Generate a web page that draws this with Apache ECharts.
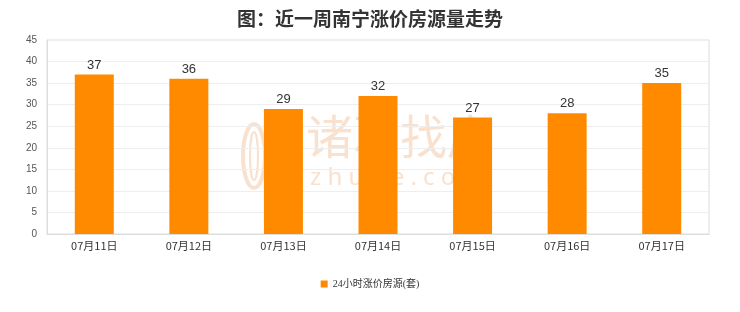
<!DOCTYPE html>
<html><head><meta charset="utf-8">
<script src="https://cdn.jsdelivr.net/npm/echarts@6/dist/echarts.min.js"></script>
<style>html,body{margin:0;padding:0;background:#fff}#c{width:740px;height:312px}</style>
</head><body><div id="c"></div>
<script>
var categories = ['07月11日','07月12日','07月13日','07月14日','07月15日','07月16日','07月17日'];
var values = [37, 36, 29, 32, 27, 28, 35];
var seriesName = '24小时涨价房源(套)';
var titleText = '图：近一周南宁涨价房源量走势';

var chart = echarts.init(document.getElementById('c'));
var wm = 'rgba(244,196,155,0.5)';
chart.setOption({
  backgroundColor: '#fff',
  animation: false,
  title: { text: titleText, left: 'center', top: 4,
    textStyle: { fontSize: 19, fontWeight: 'bold', color: '#333', fontFamily: 'Noto Sans CJK SC' } },
  graphic: [{
    type: 'text', left: 306, top: 113, z: 0,
    style: { text: '诸葛找房', fontSize: 47, fill: wm, fontFamily: 'Noto Sans CJK SC', fontWeight: 'normal' }
  },{
    type: 'text', left: 310, top: 166, z: 0,
    style: { text: 'z h u g e . c o m', fontSize: 24, fill: wm, fontFamily: 'Noto Sans' }
  },{
    type: 'ellipse', z: 0, shape: { cx: 254, cy: 156, rx: 11, ry: 32 },
    style: { fill: 'none', stroke: wm, lineWidth: 4 }
  },{
    type: 'ellipse', z: 0, shape: { cx: 254, cy: 156, rx: 4, ry: 24 },
    style: { fill: 'none', stroke: wm, lineWidth: 2 }
  }],
  grid: { left: 47, right: 31, top: 40, bottom: 78, show: true, borderColor: '#ddd', borderWidth: 1 },
  legend: { bottom: 18, left: 'center', itemWidth: 7, itemHeight: 7, icon: 'rect',
    textStyle: { fontSize: 10, color: '#333', fontFamily: 'Liberation Serif, Noto Sans CJK SC' } },
  xAxis: { type: 'category', data: categories,
    axisLine: { lineStyle: { color: '#ddd' } }, axisTick: { show: false },
    axisLabel: { color: '#333', fontSize: 11, margin: 6, fontFamily: 'Noto Sans CJK SC' } },
  yAxis: { type: 'value', min: 0, max: 45, interval: 5,
    axisLine: { show: true, lineStyle: { color: '#ddd' } }, axisTick: { show: false },
    splitLine: { lineStyle: { color: '#eee' } },
    axisLabel: { color: '#555', fontSize: 10, margin: 10 } },
  series: [{ name: seriesName, type: 'bar', data: values, barWidth: 39, z: 5,
    itemStyle: { color: '#ff8a00' },
    label: { show: true, position: 'top', color: '#333', fontSize: 13, distance: 3 } }]
});
</script></body></html>
